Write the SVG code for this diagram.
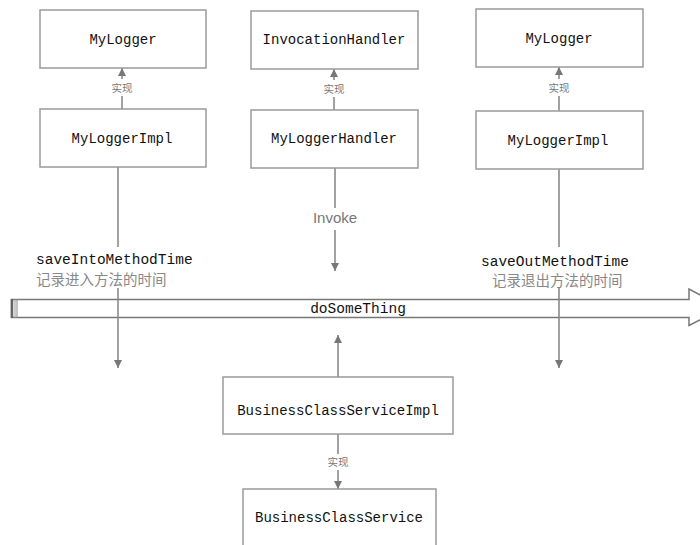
<svg xmlns="http://www.w3.org/2000/svg" width="700" height="545" viewBox="0 0 700 545">
  <style>
    .box { fill: #ffffff; stroke: #9a9a9a; stroke-width: 1.5; }
    .name { font-family: "Liberation Mono", "DejaVu Sans Mono", monospace; font-size: 14px; fill: #111111; text-anchor: middle; }
    .edge { stroke: #8a8a8a; stroke-width: 1.6; fill: none; }
    .small { font-family: "Noto Sans CJK SC", sans-serif; font-size: 10.5px; fill: #777777; text-anchor: middle; }
    .note { font-family: "Noto Sans CJK SC", sans-serif; font-size: 14.5px; fill: #888888; }
    .method { font-family: "Liberation Mono", "DejaVu Sans Mono", monospace; font-size: 14.5px; fill: #111111; }
    .invoke { font-family: "Liberation Sans", Arial, sans-serif; font-size: 15px; fill: #777777; text-anchor: middle; }
    .flow { fill: #ffffff; stroke: #777777; stroke-width: 1.5; }
  </style>
  <defs>
    <marker id="tip" viewBox="0 0 10 10" refX="10" refY="5" markerWidth="5" markerHeight="5" orient="auto">
      <path d="M0,0 L10,5 L0,10 z" fill="#777777"/>
    </marker>
  </defs>

  <!-- main call flow: doSomeThing -->
  <g id="doSomeThing">
    <path class="flow" d="M11.5,299.5 H689 V289 L724,307.5 L689,325.5 V317.5 H11.5 Z"/>
    <line x1="12" y1="299" x2="12" y2="318" stroke="#666666" stroke-width="2.5"/>
    <line x1="15" y1="299" x2="15" y2="318" stroke="#999999" stroke-width="1"/>
    <line x1="17" y1="299" x2="17" y2="318" stroke="#888888" stroke-width="1"/>
    <text class="method" x="358" y="313" text-anchor="middle">doSomeThing</text>
  </g>

  <g id="connectors">
    <!-- implementation links -->
    <line class="edge" x1="122" y1="109" x2="122" y2="96"/>
    <line class="edge" x1="122" y1="79" x2="122" y2="68" marker-end="url(#tip)"/>
    <line class="edge" x1="334" y1="110" x2="334" y2="97"/>
    <line class="edge" x1="334" y1="80" x2="334" y2="69" marker-end="url(#tip)"/>
    <line class="edge" x1="559" y1="111" x2="559" y2="96"/>
    <line class="edge" x1="559" y1="79" x2="559" y2="67" marker-end="url(#tip)"/>
    <line class="edge" x1="338" y1="434" x2="338" y2="454"/>
    <line class="edge" x1="338" y1="470" x2="338" y2="489" marker-end="url(#tip)"/>
    <text class="small" x="122" y="92">实现</text>
    <text class="small" x="334" y="93">实现</text>
    <text class="small" x="559" y="92">实现</text>
    <text class="small" x="338" y="466">实现</text>

    <!-- enter timing -->
    <line class="edge" x1="118" y1="167" x2="118" y2="247"/>
    <line class="edge" x1="118" y1="288" x2="118" y2="368" marker-end="url(#tip)"/>
    <text class="method" x="36" y="264">saveIntoMethodTime</text>
    <text class="note" x="36" y="285">记录进入方法的时间</text>

    <!-- invoke -->
    <line class="edge" x1="335" y1="168" x2="335" y2="208"/>
    <line class="edge" x1="335" y1="230" x2="335" y2="271" marker-end="url(#tip)"/>
    <text class="invoke" x="335" y="223">Invoke</text>

    <!-- exit timing -->
    <line class="edge" x1="559" y1="169" x2="559" y2="247"/>
    <line class="edge" x1="559" y1="288" x2="559" y2="368" marker-end="url(#tip)"/>
    <text class="method" x="481" y="266">saveOutMethodTime</text>
    <text class="note" x="492" y="286">记录退出方法的时间</text>

    <!-- business call up into the flow -->
    <line class="edge" x1="338" y1="377" x2="338" y2="335" marker-end="url(#tip)"/>
  </g>

  <g id="MyLogger-left">
    <rect class="box" x="40" y="10" width="166" height="58"/>
    <text class="name" x="123" y="44">MyLogger</text>
  </g>
  <g id="MyLoggerImpl-left">
    <rect class="box" x="40" y="109" width="166" height="58"/>
    <text class="name" x="122" y="143">MyLoggerImpl</text>
  </g>
  <g id="InvocationHandler">
    <rect class="box" x="251" y="11" width="167" height="58"/>
    <text class="name" x="334" y="44">InvocationHandler</text>
  </g>
  <g id="MyLoggerHandler">
    <rect class="box" x="251" y="110" width="167" height="58"/>
    <text class="name" x="334" y="143">MyLoggerHandler</text>
  </g>
  <g id="MyLogger-right">
    <rect class="box" x="476" y="9" width="167" height="58"/>
    <text class="name" x="559" y="43">MyLogger</text>
  </g>
  <g id="MyLoggerImpl-right">
    <rect class="box" x="476" y="111" width="167" height="58"/>
    <text class="name" x="558" y="145">MyLoggerImpl</text>
  </g>
  <g id="BusinessClassServiceImpl">
    <rect class="box" x="223" y="377" width="230" height="57"/>
    <text class="name" x="338" y="415">BusinessClassServiceImpl</text>
  </g>
  <g id="BusinessClassService">
    <rect class="box" x="243" y="489" width="193" height="70"/>
    <text class="name" x="339" y="522">BusinessClassService</text>
  </g>
</svg>
